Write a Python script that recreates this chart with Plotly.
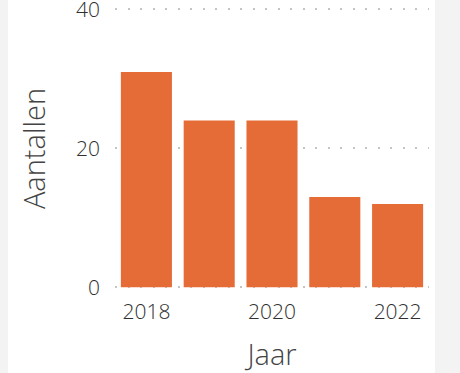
import plotly.graph_objects as go

years = [2018, 2019, 2020, 2021, 2022]
counts = [31, 24, 24, 13, 12]
y_ticks = [0, 20, 40]
x_ticks = [2018, 2020, 2022]

W, H = 460, 373
L, R, T, B = 115, 31, 8, 84
pw = W - L - R

fig = go.Figure(go.Bar(x=years, y=counts, marker=dict(color="#E56C37", line=dict(width=0)),
                       hoverinfo="skip"))

fig.update_layout(
    width=W, height=H,
    margin=dict(l=L, r=R, t=T, b=B, pad=0),
    paper_bgcolor="#f3f3f3",
    plot_bgcolor="rgba(0,0,0,0)",
    bargap=0.187,
    showlegend=False,
    font=dict(family="Open Sans, Segoe UI, sans-serif", color="#333333"),
    shapes=[dict(type="rect", xref="paper", yref="paper",
                 x0=(8 - L) / pw, x1=(435 - L) / pw, y0=-2, y1=2,
                 fillcolor="white", line=dict(width=0), layer="below")],
)
fig.update_xaxes(
    range=[2017.5, 2022.5], tickvals=x_ticks, ticktext=[str(v) for v in x_ticks],
    showgrid=False, zeroline=False, showline=False, ticks="", automargin=False,
    tickfont=dict(size=21, color="#2f2f2f", weight=300), ticklabelstandoff=8,
    ticklabeloverflow="allow",
    title=dict(text="Jaar", font=dict(size=29, color="#444444", weight=300), standoff=33),
)
fig.update_yaxes(
    range=[-0.25, 40.2], tickvals=y_ticks, showgrid=True, gridcolor="#c4c4c4", gridwidth=2,
    griddash="2px,10.5px", zeroline=False, showline=False, ticks="", automargin=False,
    tickfont=dict(size=21, color="#2f2f2f", weight=300), ticklabelstandoff=14,
    ticklabeloverflow="allow",
    title=dict(text="Aantallen", font=dict(size=29, color="#444444", weight=300), standoff=21),
)

fig.write_html("out.html", config={"displayModeBar": False},
               post_script="document.body.style.margin='0';")
